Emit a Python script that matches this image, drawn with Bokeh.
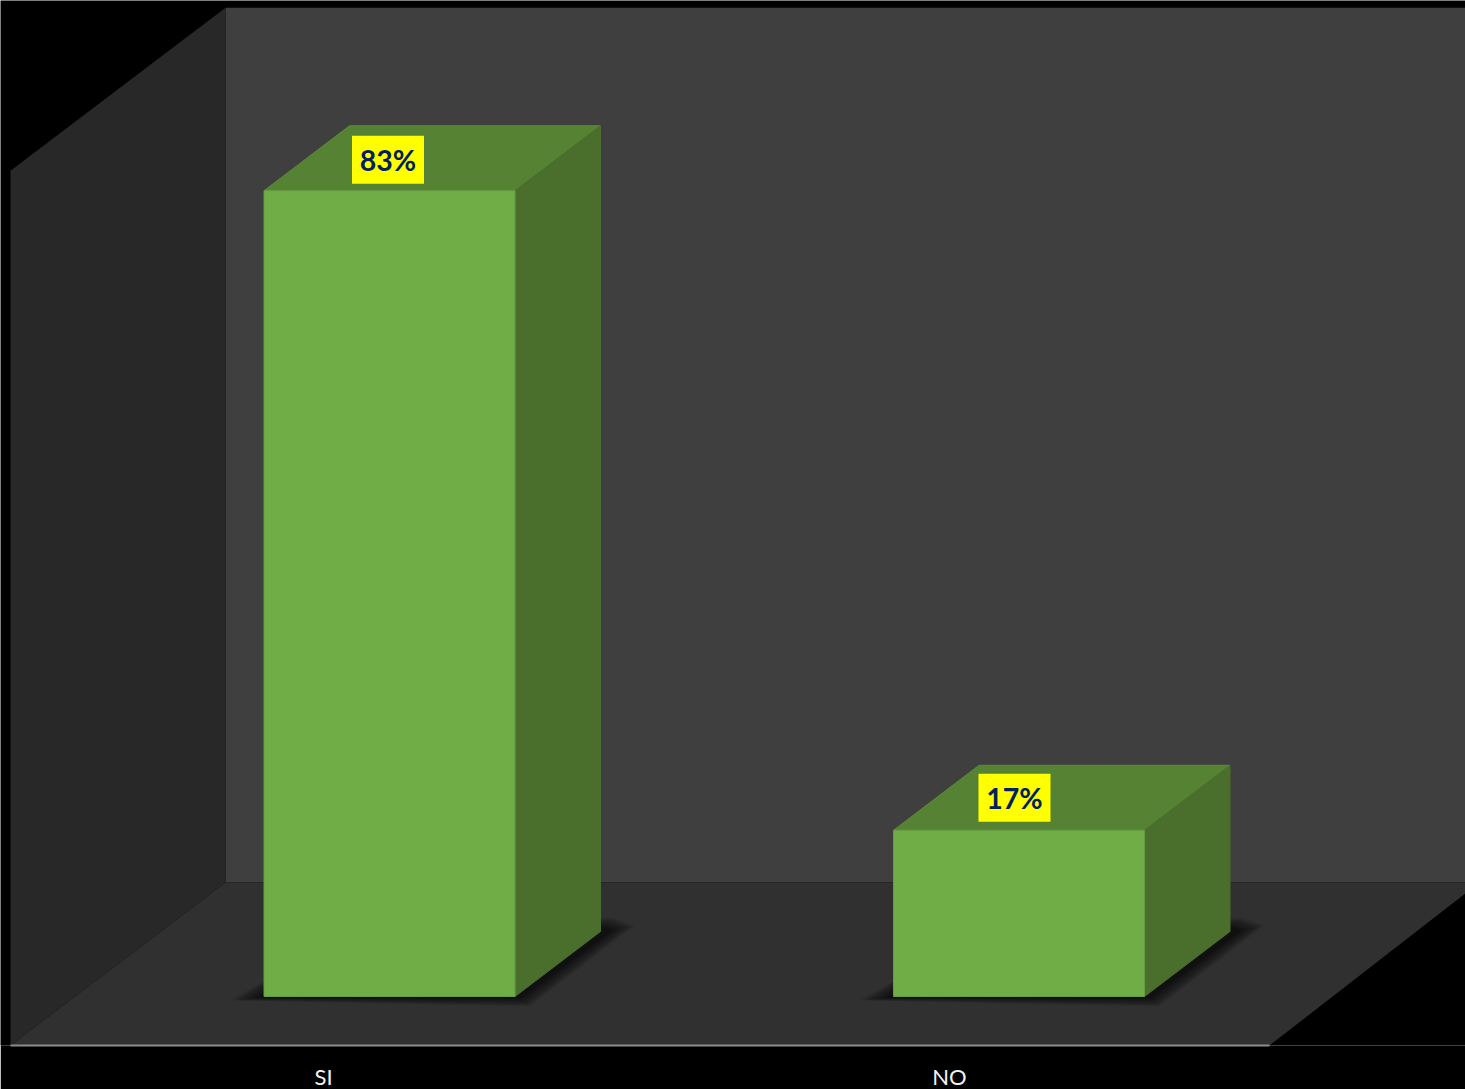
from bokeh.embed import file_html
from bokeh.resources import INLINE
from bokeh.plotting import figure
from bokeh.models import Range1d, LinearAxis, FixedTicker
from bokeh.core.properties import value

categories = ["SI", "NO"]
percent = [82.9, 17.1]
value_labels = ["83%", "17%"]

W, H, BOTTOM = 1465, 1089, 44
PX_X = 629.5          # pixels per category
PX_Y = 9.72           # pixels per percentage point
X0_PX, Y0_PX = 389.0, 996.0   # pixel of first category / of value 0


def dx(px):
    return px / PX_X


def dy(px):
    return px / PX_Y


x_left = dx(-X0_PX)
x_right = dx(W - X0_PX)
y_low = dy(Y0_PX - (H - BOTTOM))
y_high = dy(Y0_PX)

p = figure(frame_width=W, frame_height=H - BOTTOM, output_backend="svg", toolbar_location=None,
           x_range=Range1d(x_left, x_right), y_range=Range1d(y_low, y_high),
           x_axis_location=None, y_axis_location=None,
           background_fill_color="black", border_fill_color="black",
           min_border=0, outline_line_color=None)
p.styles = {"position": "absolute", "left": "0px", "top": "0px"}
p.grid.visible = False

# box of the 3D scene
AXIS_MAX = 90.0
floor_y = y_low
fx0 = x_left + dx(10)
fx1 = x_left + dx(1269)
depth_x, depth_y = dx(215), dy(163)
depth_x_right = dx(210)
top_y = floor_y + AXIS_MAX

p.patch([fx0 + depth_x, fx1 + depth_x, fx1 + depth_x, fx0 + depth_x],
        [floor_y + depth_y, floor_y + depth_y, top_y + depth_y, top_y + depth_y],
        fill_color="#3f3f3f", line_color=None)
p.patch([fx0, fx0 + depth_x, fx0 + depth_x, fx0],
        [floor_y, floor_y + depth_y, top_y + depth_y, top_y],
        fill_color="#282828", line_color=None)
p.patch([fx0, fx1, fx1 + depth_x_right, fx0 + depth_x],
        [floor_y, floor_y, floor_y + depth_y, floor_y + depth_y],
        fill_color="#303030", line_color=None)

bar_w = dx(251)
bar_dx, bar_dy = dx(85.5), dy(65)
xs = list(range(len(categories)))

# soft shadows: shapes stepping from a dark core out to a faded edge
# corner offsets in pixels from the bar's front-left / front-right base corners
STEPS = 14
for k in range(STEPS):
    t = k / (STEPS - 1)

    def mix(a, b):
        return a + (b - a) * t

    for x in xs:
        l, r = x - bar_w / 2, x + bar_w / 2
        p.patch([l + dx(mix(-4, -34)), r + dx(mix(5, 15)), r + dx(mix(96, 120)),
                 r + dx(mix(86, 98)), l + bar_dx],
                [dy(mix(-1, -4)), dy(mix(-1, -10)), dy(mix(66, 71)),
                 dy(mix(68, 79)), bar_dy],
                fill_color="black", fill_alpha=0.058, line_color=None)

# bars
for x, v in zip(xs, percent):
    l, r = x - bar_w / 2, x + bar_w / 2
    p.patch([l, r, r + bar_dx, l + bar_dx], [v, v, v + bar_dy, v + bar_dy],
            fill_color="#568234", line_color="#5b8a38", line_width=1)
    p.patch([r, r + bar_dx, r + bar_dx, r], [0, bar_dy, v + bar_dy, v],
            fill_color="#4A6E2B", line_color="#4A6E2B", line_width=1)
p.quad(left=[x - bar_w / 2 for x in xs], right=[x + bar_w / 2 for x in xs],
       bottom=[0] * len(xs), top=percent,
       fill_color="#70AD47", line_color="#659d40", line_width=1)

# value labels
shift_x = [2.5, -0.5]
shift_y = [0, 1.5]
box_l = [x - bar_w / 2 + bar_dx + dx(s) for x, s in zip(xs, shift_x)]
box_low = [v + dy(7 + s) for v, s in zip(percent, shift_y)]
box_high = [v + dy(55 + s) for v, s in zip(percent, shift_y)]
p.quad(left=box_l, right=[b + dx(72) for b in box_l], bottom=box_low, top=box_high,
       fill_color="#FFFF00", line_color=None)
p.text(x=[b + dx(36) for b in box_l], y=[(a + b) / 2 for a, b in zip(box_low, box_high)], text=value_labels,
       text_font=value("Lato"), text_font_style="bold", text_font_size="28.5px",
       text_color="#002060", text_align="center", text_baseline="middle")

# category axis on the front edge of the floor
tick_pos = [x + o for x, o in zip(xs, [-0.1048, -0.1104])]
axis = LinearAxis(ticker=FixedTicker(ticks=tick_pos),
                  major_label_overrides=dict(zip(tick_pos, categories)),
                  bounds=(fx0, fx1),
                  axis_line_color="#8c8c8c", axis_line_width=2,
                  major_tick_line_color=None, minor_tick_line_color=None,
                  major_tick_out=0, major_tick_in=0,
                  major_label_text_color="#f2f2f2", major_label_text_font="Lato",
                  major_label_text_font_size="22px", major_label_standoff=17)
p.add_layout(axis, "below")

open("out.html", "w").write(file_html(p, INLINE))
